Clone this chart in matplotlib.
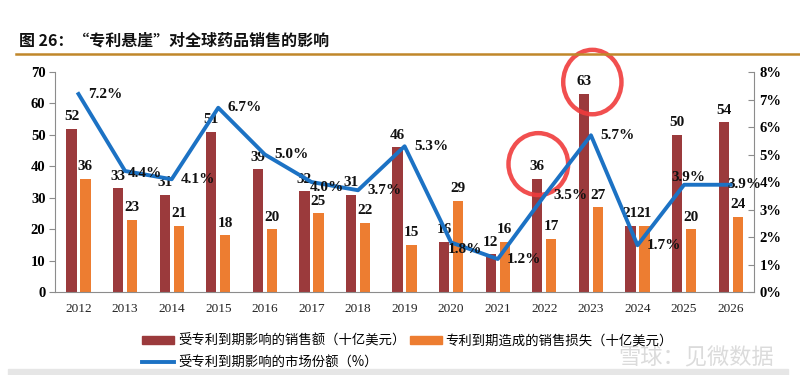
import matplotlib
matplotlib.use("Agg")
import matplotlib.pyplot as plt
import numpy as np
from matplotlib.patches import Ellipse, Rectangle
from matplotlib.lines import Line2D

years = ["2012", "2013", "2014", "2015", "2016", "2017", "2018", "2019",
         "2020", "2021", "2022", "2023", "2024", "2025", "2026"]
sales_at_risk = [52, 33, 31, 51, 39, 32, 31, 46, 16, 12, 36, 63, 21, 50, 54]
sales_lost = [36, 23, 21, 18, 20, 25, 22, 15, 29, 16, 17, 27, 21, 20, 24]
market_share = [7.2, 4.4, 4.1, 6.7, 5.0, 4.0, 3.7, 5.3, 1.8, 1.2, 3.5, 5.7, 1.7, 3.9, 3.9]

title = "图 26：“专利悬崖”对全球药品销售的影响"
legend_labels = ["受专利到期影响的销售额（十亿美元）",
                 "专利到期造成的销售损失（十亿美元）",
                 "受专利到期影响的市场份额（%）"]
watermark = "雪球：见微数据"

c_dark = "#9B3A3C"
c_orange = "#ED7D31"
c_blue = "#1C72C4"

serif = ["Liberation Serif", "DejaVu Serif"]
cjk = ["Noto Sans CJK SC", "DejaVu Sans"]

fig = plt.figure(figsize=(8, 3.75), dpi=100)
ax = fig.add_axes([0.069, 0.2213, 0.8735, 0.5867])
ax2 = ax.twinx()

x = np.arange(len(years))
w = 0.22
off = 0.15
ax.bar(x - off, sales_at_risk, w, color=c_dark, zorder=2)
ax.bar(x + off, sales_lost, w, color=c_orange, zorder=2)

ax.set_xlim(-0.5, len(years) - 0.5)
ax.set_ylim(0, 70)
ax.set_yticks(range(0, 71, 10))
ax2.set_ylim(0, 8)
ax2.set_yticks(range(0, 9))
ax2.set_yticklabels([f"{v}%" for v in range(0, 9)])

ax2.plot(x, market_share, color=c_blue, lw=2.8, zorder=3)

for a in (ax, ax2):
    a.spines["top"].set_visible(False)
    for s in a.spines.values():
        s.set_color("#8c8c8c")
ax.spines["right"].set_visible(False)
ax2.spines["left"].set_visible(False)
ax2.spines["bottom"].set_visible(False)

ax.set_xticks(x)
ax.set_xticklabels(years, fontfamily=serif, fontsize=9.5, color="#222222")
ax.tick_params(axis="x", length=0, pad=8)
ax.tick_params(axis="y", length=4, color="#8c8c8c", direction="out", pad=3)
ax2.tick_params(axis="y", length=4, color="#8c8c8c", direction="in", pad=4)
for lab in list(ax.get_yticklabels()) + list(ax2.get_yticklabels()):
    lab.set_fontfamily(serif)
    lab.set_fontweight("bold")
    lab.set_fontsize(10.5)

lbl_kw = dict(fontfamily=serif, fontweight="bold", fontsize=11, ha="center",
              va="bottom", color="#111111", zorder=5)
for i in range(len(years)):
    ax.annotate(str(sales_at_risk[i]), (x[i] - off, sales_at_risk[i]),
                xytext=(0, 4), textcoords="offset points", **lbl_kw)
    ax.annotate(str(sales_lost[i]), (x[i] + off, sales_lost[i]),
                xytext=(0, 4), textcoords="offset points", **lbl_kw)

pct_offsets = {1: (14, -2), 5: (11, -4), 8: (10, -5), 13: (3, 5), 14: (10, 0)}
for i, v in enumerate(market_share):
    dx, dy = pct_offsets.get(i, (19, 0))
    ax2.annotate(f"{v:.1f}%", (x[i], v), xytext=(dx, dy), textcoords="offset points",
                 fontfamily=serif, fontweight="bold", fontsize=11, ha="center",
                 va="center", color="#111111", zorder=5)

# title and rule
fig.text(0.024, 0.893, title, fontfamily=cjk, fontweight="bold", fontsize=11.5,
         ha="left", va="center", color="#111111")
fig.add_artist(Line2D([0.02, 1.0], [0.856, 0.856], transform=fig.transFigure,
                      color="#C0872A", lw=1.8))

# legend (column-major order so that the line sits on the second row)
handles = [Rectangle((0, 0), 1, 1, color=c_dark),
           Line2D([0], [0], color=c_blue, lw=2.8),
           Rectangle((0, 0), 1, 1, color=c_orange)]
labels = [legend_labels[0], legend_labels[2], legend_labels[1]]
fig.legend(handles, labels, loc="upper left",
           bbox_to_anchor=(0.171, 0.125), ncol=2, frameon=False,
           prop={"family": cjk, "size": 9.6}, handlelength=2.4,
           handleheight=0.6, columnspacing=0.3, handletextpad=0.3,
           labelspacing=0.6, borderaxespad=0)

# watermark
fig.text(0.87, 0.045, watermark, fontfamily=cjk, fontsize=16,
         color="#c4c4c4", alpha=0.6, ha="center", va="center")

# bottom grey band
fig.add_artist(Rectangle((0.01, 0.0), 0.975, 0.015, transform=fig.transFigure,
                         color="#e6e6e6", zorder=0))

# red hand-drawn circles
ax.add_patch(Ellipse((x[11] + 0.03, 66.8), 1.25, 20.5, transform=ax.transData,
                     fill=False, ec="#F03C3C", lw=3.2, alpha=0.9, zorder=6,
                     clip_on=False))
ax.add_patch(Ellipse((x[10] - 0.13, 40.7), 1.28, 19.7, transform=ax.transData,
                     fill=False, ec="#F03C3C", lw=3.2, alpha=0.9, zorder=6,
                     clip_on=False))

fig.savefig("out.png", dpi=100)
